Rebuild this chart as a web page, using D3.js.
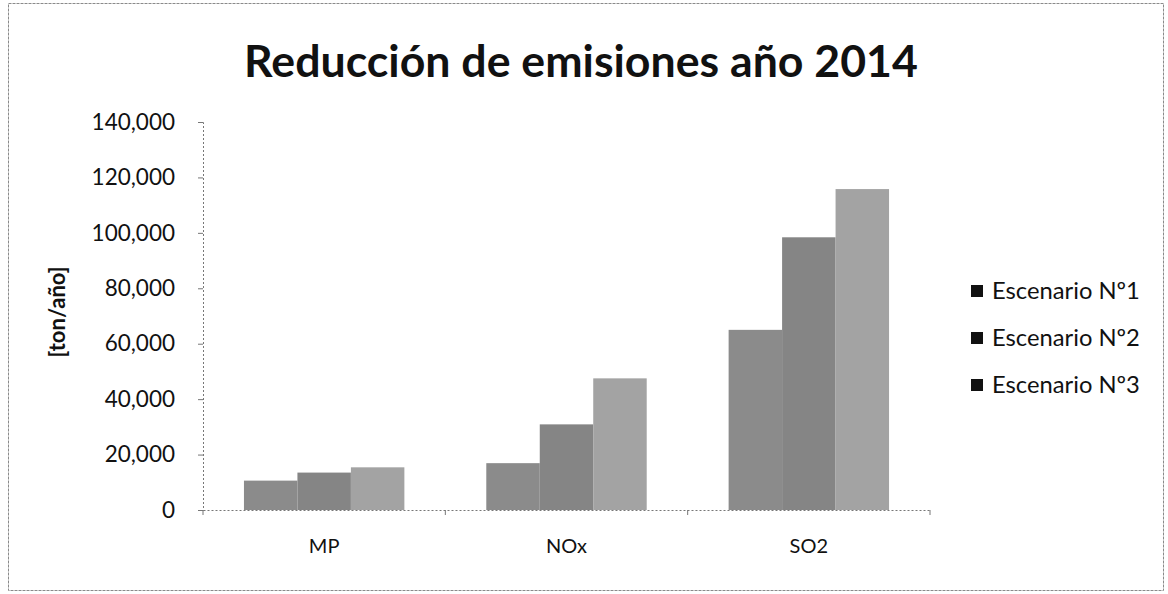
<!DOCTYPE html>
<html>
<head>
<meta charset="utf-8">
<script src="https://cdn.jsdelivr.net/npm/d3@7/dist/d3.min.js"></script>
<style>
  html, body { margin: 0; padding: 0; background: #fff; }
  svg { display: block; }
  text { font-family: Lato, "Open Sans", "DejaVu Sans", sans-serif; fill: #111; }
</style>
</head>
<body>
<svg id="chart" width="1168" height="594"></svg>
<script>
const categories = ["MP", "NOx", "SO2"];
const seriesNames = ["Escenario Nº1", "Escenario Nº2", "Escenario Nº3"];
const escenario1 = [10600, 16900, 65000];
const escenario2 = [13500, 30900, 98400];
const escenario3 = [15400, 47500, 115800];
const yTicks = [0, 20000, 40000, 60000, 80000, 100000, 120000, 140000];
const titleText = "Reducción de emisiones año 2014";
const yAxisTitle = "[ton/año]";

const seriesValues = [escenario1, escenario2, escenario3];
const colors = ["#8b8b8b", "#858585", "#a3a3a3"];

const svg = d3.select("#chart");
const plot = { left: 203, right: 930, top: 122, bottom: 510 };

// outer border
svg.append("rect")
  .attr("x", 8.5).attr("y", 3.5).attr("width", 1155).attr("height", 587)
  .attr("fill", "none").attr("stroke", "#8a8a8a").attr("stroke-width", 1)
  .attr("stroke-dasharray", "3,1");

const x = d3.scaleBand().domain(categories)
  .range([plot.left, plot.right]).paddingInner(0.338).paddingOuter(0.169);
const xs = d3.scaleBand().domain(d3.range(seriesNames.length))
  .range([0, x.bandwidth()]).padding(0);
const y = d3.scaleLinear().domain([0, 140000]).range([plot.bottom, plot.top]);

// bars
const data = [];
categories.forEach((c, ci) => seriesValues.forEach((vals, si) => data.push({ c, si, v: vals[ci] })));
svg.append("g").selectAll("rect").data(data).join("rect")
  .attr("x", d => x(d.c) + xs(d.si))
  .attr("y", d => y(d.v))
  .attr("width", xs.bandwidth())
  .attr("height", d => y(0) - y(d.v))
  .attr("fill", d => colors[d.si]);

// y axis
const yAxis = d3.axisLeft(y).tickValues(yTicks).tickFormat(d3.format(",")).tickSize(5).tickPadding(23);
const gy = svg.append("g").attr("transform", `translate(${plot.left},0)`).call(yAxis);
gy.select(".domain").attr("stroke", "#777").attr("stroke-dasharray", "2,2");
gy.selectAll(".tick line").attr("stroke", "#777");
gy.selectAll(".tick text").style("font-size", "22.5px").attr("fill", "#111");

// x axis
const xAxis = d3.axisBottom(x).tickSize(0).tickPadding(29);
const gx = svg.append("g").attr("transform", `translate(0,${plot.bottom})`).call(xAxis);
gx.select(".domain").attr("stroke", "#777").attr("stroke-dasharray", "2,2");
gx.selectAll(".tick text").style("font-size", "20px").attr("fill", "#111");
// category boundary ticks
const boundaries = [plot.left].concat(categories.map(c => x(c) + x.bandwidth() + x.step() * x.paddingInner() / 2));
gx.selectAll(".bnd").data(boundaries).join("line").attr("class", "bnd")
  .attr("x1", d => d).attr("x2", d => d).attr("y1", 0).attr("y2", 5)
  .attr("stroke", "#777");

// title
const title = svg.append("text").attr("x", 581).attr("y", 77)
  .attr("text-anchor", "middle").style("font-size", "40px").style("font-weight", "bold")
  .text(titleText);
const tw = title.node().getComputedTextLength();
title.style("font-size", (40 * 674 / tw) + "px");

// y axis title
svg.append("text").attr("transform", "translate(65,312) rotate(-90)")
  .attr("text-anchor", "middle").style("font-size", "22px").style("font-weight", "bold")
  .text(yAxisTitle);

// legend
const legend = svg.append("g");
const legendY = [291, 338, 385];
seriesNames.forEach((n, i) => {
  legend.append("rect").attr("x", 971).attr("y", legendY[i] - 6).attr("width", 12).attr("height", 12)
    .attr("fill", "#111");
  const t = legend.append("text").attr("x", 992).attr("y", legendY[i]).attr("dy", "0.35em")
    .style("font-size", "20px").text(n);
  const w = t.node().getComputedTextLength();
  t.style("font-size", (20 * 148 / w) + "px");
});
</script>
</body>
</html>
